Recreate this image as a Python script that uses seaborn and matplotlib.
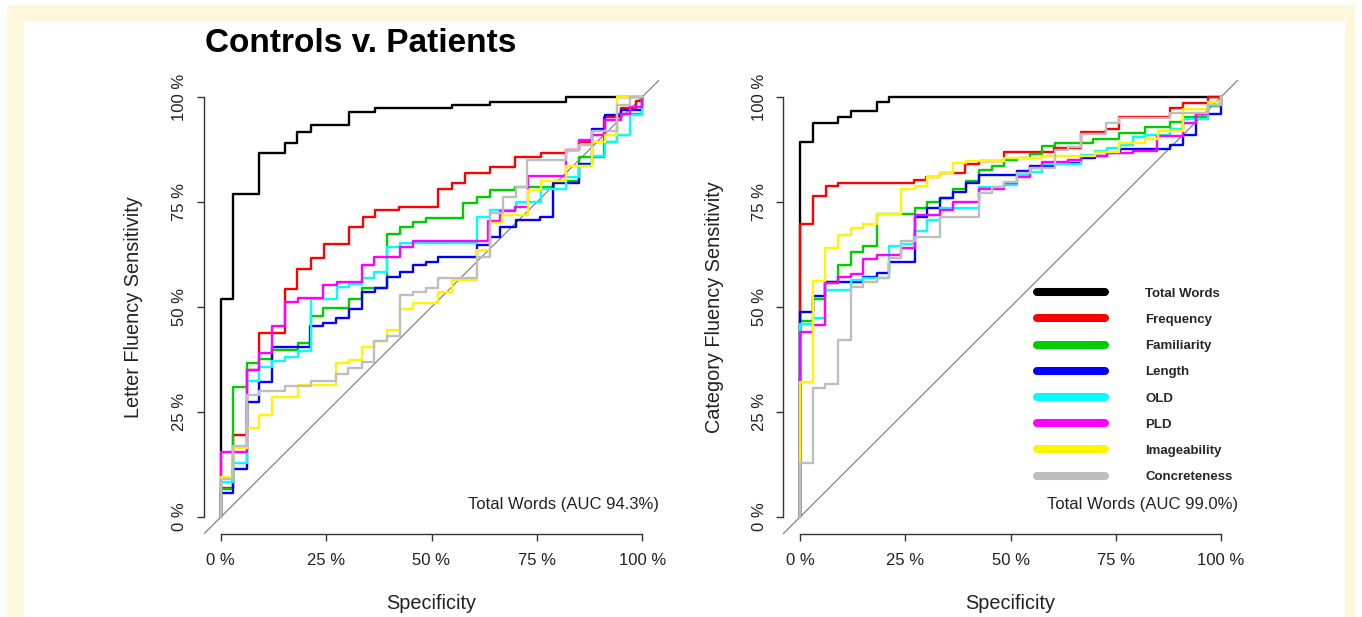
import numpy as np
import pandas as pd
import matplotlib
matplotlib.use("Agg")
import matplotlib.pyplot as plt
import seaborn as sns
from matplotlib.lines import Line2D
from matplotlib.patches import Rectangle

# ---------------- data ----------------
measures = ["Total Words", "Frequency", "Familiarity", "Length", "OLD", "PLD",
            "Imageability", "Concreteness"]
colors = ["#000000", "#FF0000", "#00CD00", "#0000FF", "#00FFFF", "#FF00FF",
          "#FFF500", "#BEBEBE"]
tick_vals = [0, 0.25, 0.5, 0.75, 1.0]
tick_labels = ["0 %", "25 %", "50 %", "75 %", "100 %"]

# Letter fluency (left panel): step vertices (specificity axis, sensitivity)
L_total_x = [0, 0, 0.03, 0.09, 0.152, 0.18, 0.214, 0.303, 0.365, 0.549, 0.638, 0.82, 1]
L_total_y = [0, 0.52, 0.77, 0.867, 0.89, 0.917, 0.933, 0.965, 0.973, 0.982, 0.989, 1.0, 1]
L_freq_x = [0, 0, 0.029, 0.061, 0.09, 0.152, 0.18, 0.214, 0.244, 0.303, 0.337, 0.365, 0.424,
            0.515, 0.549, 0.579, 0.638, 0.698, 0.761, 0.82, 0.85, 0.91, 0.95, 0.985, 1]
L_freq_y = [0, 0.07, 0.195, 0.35, 0.439, 0.543, 0.59, 0.616, 0.65, 0.69, 0.715, 0.731, 0.739,
            0.78, 0.795, 0.82, 0.834, 0.858, 0.867, 0.874, 0.894, 0.952, 0.974, 0.99, 1]
L_fam_x = [0, 0, 0.029, 0.061, 0.09, 0.122, 0.184, 0.214, 0.243, 0.304, 0.334, 0.394, 0.425,
           0.455, 0.486, 0.575, 0.607, 0.639, 0.698, 0.79, 0.85, 0.91, 0.94, 1]
L_fam_y = [0, 0.067, 0.31, 0.366, 0.376, 0.398, 0.414, 0.478, 0.497, 0.52, 0.545, 0.674, 0.69,
           0.703, 0.713, 0.747, 0.763, 0.779, 0.786, 0.80, 0.857, 0.893, 0.96, 1]
L_len_x = [0, 0, 0.029, 0.061, 0.09, 0.122, 0.211, 0.243, 0.273, 0.303, 0.334, 0.365, 0.394,
           0.425, 0.455, 0.486, 0.515, 0.607, 0.639, 0.663, 0.70, 0.758, 0.788, 0.85, 0.88,
           0.912, 0.95, 1]
L_len_y = [0, 0.058, 0.114, 0.275, 0.322, 0.405, 0.455, 0.463, 0.474, 0.495, 0.536, 0.545,
           0.571, 0.584, 0.6, 0.608, 0.619, 0.648, 0.667, 0.69, 0.707, 0.715, 0.795, 0.84,
           0.924, 0.957, 0.97, 1]
L_old_x = [0, 0, 0.029, 0.061, 0.09, 0.122, 0.152, 0.184, 0.214, 0.275, 0.304, 0.334, 0.363,
           0.394, 0.425, 0.607, 0.639, 0.70, 0.76, 0.82, 0.85, 0.88, 0.912, 0.94, 0.97, 1]
L_old_y = [0, 0.084, 0.129, 0.325, 0.357, 0.372, 0.38, 0.396, 0.519, 0.548, 0.555, 0.57, 0.584,
           0.643, 0.652, 0.714, 0.731, 0.75, 0.78, 0.81, 0.836, 0.86, 0.894, 0.91, 0.957, 1]
L_pld_x = [0, 0, 0.061, 0.09, 0.122, 0.152, 0.184, 0.243, 0.275, 0.334, 0.363, 0.425, 0.456,
           0.634, 0.663, 0.698, 0.729, 0.82, 0.85, 0.88, 0.912, 0.95, 0.97, 1]
L_pld_y = [0, 0.155, 0.35, 0.391, 0.455, 0.513, 0.521, 0.552, 0.56, 0.6, 0.619, 0.643, 0.657,
           0.705, 0.729, 0.739, 0.812, 0.874, 0.898, 0.91, 0.945, 0.96, 0.977, 1]
L_img_x = [0, 0, 0.029, 0.061, 0.09, 0.122, 0.184, 0.273, 0.303, 0.334, 0.363, 0.394, 0.425,
           0.455, 0.515, 0.548, 0.607, 0.639, 0.667, 0.73, 0.76, 0.82, 0.88, 0.912, 0.94, 1]
L_img_y = [0, 0.096, 0.164, 0.211, 0.243, 0.285, 0.314, 0.366, 0.374, 0.405, 0.42, 0.445,
           0.495, 0.509, 0.536, 0.564, 0.636, 0.70, 0.72, 0.779, 0.80, 0.836, 0.894, 0.91, 1.0, 1]
L_conc_x = [0, 0, 0.029, 0.061, 0.09, 0.152, 0.214, 0.273, 0.302, 0.334, 0.363, 0.394, 0.425,
            0.455, 0.486, 0.515, 0.607, 0.639, 0.67, 0.70, 0.726, 0.82, 0.85, 0.88, 0.94, 0.97, 1]
L_conc_y = [0, 0.09, 0.17, 0.29, 0.30, 0.312, 0.324, 0.34, 0.355, 0.37, 0.42, 0.431, 0.528,
            0.536, 0.546, 0.569, 0.62, 0.724, 0.763, 0.786, 0.85, 0.875, 0.886, 0.92, 0.98, 1.0, 1]

# Category fluency (right panel)
R_total_x = [0, 0, 0.03, 0.091, 0.12, 0.182, 0.211, 1]
R_total_y = [0, 0.894, 0.939, 0.953, 0.967, 0.989, 1.0, 1]
R_freq_x = [0, 0, 0.03, 0.061, 0.091, 0.271, 0.299, 0.332, 0.392, 0.424, 0.485, 0.603, 0.667,
            0.727, 0.757, 0.879, 0.91, 0.97, 1]
R_freq_y = [0, 0.698, 0.764, 0.788, 0.796, 0.802, 0.81, 0.819, 0.84, 0.848, 0.87, 0.879, 0.916,
            0.925, 0.953, 0.974, 0.985, 1.0, 1]
R_fam_x = [0, 0, 0.03, 0.059, 0.091, 0.12, 0.15, 0.182, 0.273, 0.302, 0.333, 0.364, 0.394,
           0.424, 0.455, 0.485, 0.515, 0.546, 0.576, 0.606, 0.696, 0.758, 0.82, 0.88, 0.91, 0.97, 1]
R_fam_y = [0, 0.467, 0.519, 0.56, 0.6, 0.632, 0.646, 0.721, 0.735, 0.75, 0.76, 0.78, 0.80,
           0.826, 0.835, 0.85, 0.855, 0.864, 0.883, 0.891, 0.899, 0.914, 0.929, 0.94, 0.953, 0.979, 1]
R_len_x = [0, 0, 0.03, 0.059, 0.15, 0.182, 0.211, 0.273, 0.302, 0.333, 0.364, 0.394, 0.424,
           0.515, 0.546, 0.606, 0.667, 0.70, 0.73, 0.76, 0.88, 0.91, 0.94, 1]
R_len_y = [0, 0.489, 0.526, 0.56, 0.571, 0.58, 0.608, 0.715, 0.735, 0.759, 0.775, 0.796, 0.814,
           0.825, 0.836, 0.842, 0.855, 0.86, 0.867, 0.877, 0.886, 0.91, 0.96, 1]
R_old_x = [0, 0, 0.03, 0.059, 0.12, 0.15, 0.211, 0.241, 0.27, 0.302, 0.333, 0.424, 0.485,
           0.515, 0.546, 0.576, 0.667, 0.70, 0.73, 0.76, 0.79, 0.82, 0.88, 0.91, 0.97, 1]
R_old_y = [0, 0.46, 0.474, 0.54, 0.564, 0.57, 0.645, 0.65, 0.682, 0.707, 0.736, 0.786, 0.79,
           0.815, 0.822, 0.84, 0.862, 0.872, 0.878, 0.886, 0.905, 0.91, 0.924, 0.948, 0.98, 1]
R_pld_x = [0, 0, 0.03, 0.059, 0.091, 0.12, 0.15, 0.182, 0.241, 0.273, 0.333, 0.364, 0.424,
           0.485, 0.515, 0.546, 0.576, 0.637, 0.667, 0.73, 0.79, 0.847, 0.91, 0.94, 0.97, 1]
R_pld_y = [0, 0.44, 0.457, 0.556, 0.571, 0.579, 0.614, 0.624, 0.64, 0.719, 0.73, 0.751, 0.78,
           0.795, 0.81, 0.83, 0.846, 0.85, 0.86, 0.866, 0.872, 0.907, 0.939, 0.96, 0.981, 1]
R_img_x = [0, 0, 0.03, 0.059, 0.091, 0.12, 0.15, 0.182, 0.241, 0.273, 0.302, 0.333, 0.364,
           0.394, 0.485, 0.576, 0.70, 0.758, 0.82, 0.85, 0.91, 0.97, 1]
R_img_y = [0, 0.322, 0.563, 0.64, 0.671, 0.689, 0.698, 0.721, 0.782, 0.788, 0.81, 0.82, 0.843,
           0.848, 0.855, 0.86, 0.87, 0.89, 0.90, 0.92, 0.971, 0.989, 1]
R_conc_x = [0, 0, 0.03, 0.059, 0.091, 0.12, 0.15, 0.182, 0.211, 0.241, 0.273, 0.333, 0.424,
            0.455, 0.485, 0.515, 0.546, 0.606, 0.637, 0.667, 0.728, 0.758, 0.88, 0.97, 1]
R_conc_y = [0, 0.128, 0.307, 0.317, 0.421, 0.548, 0.56, 0.57, 0.616, 0.656, 0.667, 0.714, 0.771,
            0.786, 0.798, 0.82, 0.832, 0.874, 0.88, 0.913, 0.939, 0.951, 0.962, 0.98, 1]

left_curves = [(L_total_x, L_total_y), (L_freq_x, L_freq_y), (L_fam_x, L_fam_y),
               (L_len_x, L_len_y), (L_old_x, L_old_y), (L_pld_x, L_pld_y),
               (L_img_x, L_img_y), (L_conc_x, L_conc_y)]
right_curves = [(R_total_x, R_total_y), (R_freq_x, R_freq_y), (R_fam_x, R_fam_y),
                (R_len_x, R_len_y), (R_old_x, R_old_y), (R_pld_x, R_pld_y),
                (R_img_x, R_img_y), (R_conc_x, R_conc_y)]

title = "Controls v. Patients"
left_ylabel = "Letter Fluency Sensitivity"
right_ylabel = "Category Fluency Sensitivity"
xlabel = "Specificity"
left_auc = "Total Words (AUC 94.3%)"
right_auc = "Total Words (AUC 99.0%)"

# ---------------- style ----------------
sns.set_theme(style="white")
plt.rcParams["font.family"] = ["Liberation Sans", "DejaVu Sans"]
TXT = "#222222"

W, H = 1362, 617
fig = plt.figure(figsize=(W / 100, H / 100), dpi=100)
fig.patch.set_facecolor("white")
fig.patches.append(Rectangle((7 / W, 0), (1355 - 7) / W, (H - 5) / H,
                             transform=fig.transFigure, facecolor="#FEF7DC",
                             edgecolor="none", zorder=-20))
fig.patches.append(Rectangle((24 / W, 0), (1345 - 24) / W, (H - 22) / H,
                             transform=fig.transFigure, facecolor="white",
                             edgecolor="none", zorder=-19))

ax_h = 453.6 / H
ax_b = (H - 533.8) / H
ax1 = fig.add_axes([204 / W, ax_b, 455 / W, ax_h])
ax2 = fig.add_axes([783.2 / W, ax_b, 454.6 / W, ax_h])


def draw_panel(ax, curves, ylabel, auc_text, ylab_x):
    frames = []
    for name, (xs, ys) in zip(measures, curves):
        frames.append(pd.DataFrame({"x": xs, "y": ys, "measure": name}))
    df = pd.concat(frames, ignore_index=True)
    ax.set_facecolor("none")
    ax.axline((0, 0), (1, 1), color="#6E6E6E", lw=0.75, zorder=1)
    sns.lineplot(data=df, x="x", y="y", hue="measure", hue_order=measures,
                 palette=colors, estimator=None, sort=False,
                 drawstyle="steps-post", lw=1.7, legend=False, ax=ax, zorder=2)
    ax.set_xlim(-0.04, 1.04)
    ax.set_ylim(-0.04, 1.04)
    ax.set_xticks(tick_vals)
    ax.set_xticklabels(tick_labels, fontsize=12, color=TXT)
    ax.set_yticks(tick_vals)
    ax.set_yticklabels(tick_labels, fontsize=12, color=TXT, rotation=90, va="center")
    for s in ["top", "right"]:
        ax.spines[s].set_visible(False)
    ax.spines["left"].set_bounds(0, 1)
    ax.spines["bottom"].set_bounds(0, 1)
    for s in ["left", "bottom"]:
        ax.spines[s].set_color("#333333")
        ax.spines[s].set_linewidth(1.0)
    ax.tick_params(axis="both", direction="out", length=5, width=1.0,
                   color="#333333", left=True, bottom=True)
    ax.tick_params(axis="x", pad=9)
    ax.tick_params(axis="y", pad=7)
    ax.set_xlabel(xlabel, fontsize=14.3, color=TXT, va="center")
    ax.xaxis.set_label_coords(0.5, -0.1526)
    ax.set_ylabel(ylabel, fontsize=14.3, color=TXT, va="center")
    ax.yaxis.set_label_coords(ylab_x, 0.5)
    ax.text(1.0, 0.065, auc_text, transform=ax.transAxes, ha="right",
            va="center", fontsize=12, color=TXT)


draw_panel(ax1, left_curves, left_ylabel, left_auc, -0.154)
draw_panel(ax2, right_curves, right_ylabel, right_auc, -0.152)

handles = [Line2D([], [], color=c, lw=5.8, solid_capstyle="round") for c in colors]
ax2.legend(handles, measures, loc="upper left", bbox_to_anchor=(0.558, 0.543),
           frameon=False, borderpad=0, borderaxespad=0, handlelength=5.2,
           handletextpad=3.0, labelspacing=1.06,
           prop={"weight": "bold", "size": 9.5})

fig.text(205 / W, 1 - 44 / H, title, fontsize=24, weight="bold",
         ha="left", va="center", color="black")

fig.savefig("out.png", dpi=100, facecolor=fig.get_facecolor())
